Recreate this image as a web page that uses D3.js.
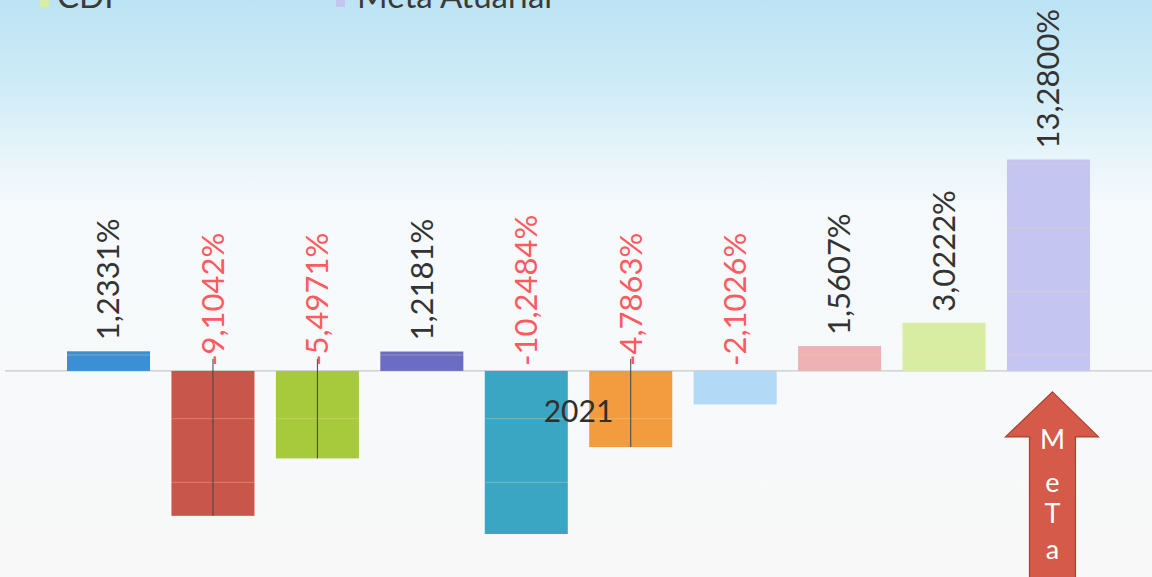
<!DOCTYPE html>
<html>
<head>
<meta charset="utf-8">
<script src="https://cdn.jsdelivr.net/npm/d3@7"></script>
<style>
  html, body { margin: 0; padding: 0; background: #f8f8f8; }
  svg { display: block; font-family: Lato, "Open Sans", sans-serif; }
</style>
</head>
<body>
<div id="chart"></div>
<script>
/*global d3*/
// values in %, one bar per series, single category "2021"
const values = [1.2331, -9.1042, -5.4971, 1.2181, -10.2484, -4.7863, -2.1026, 1.5607, 3.0222, 13.28]
const colors = ["#3b8fd5", "#c9564b", "#a7c93c", "#6b6cc3", "#3ba6c4", "#f29b3f", "#b2d9f6", "#eeb1b4", "#d9eda2", "#c5c5f2"]
const category = "2021"
const legendNames = ["CDI", "Meta Atuarial"]
const legendIdx = [8, 9]
const gridTicks = [-11, -7, -3, 1, 5, 9, 13]
const leaderIdx = [1, 2, 5]
const arrowLetters = ["M", "e", "T", "a"]

const width = 1152, height = 577

const svg = d3.select("#chart").append("svg").attr("width", width).attr("height", height)

// background gradient
const grad = svg.append("defs").append("linearGradient").attr("id", "bg")
  .attr("x1", 0).attr("y1", 0).attr("x2", 0).attr("y2", 1)
grad.selectAll("stop")
  .data([[0, "#bce3f4"], [0.14, "#cdebf7"], [0.25, "#e4f3fa"], [0.36, "#f6fafc"], [1, "#f8f8f8"]])
  .join("stop")
  .attr("offset", d => d[0])
  .attr("stop-color", d => d[1])
svg.append("rect").attr("width", width).attr("height", height).attr("fill", "url(#bg)")

const x = d3.scaleBand().domain(d3.range(values.length)).range([67, 1090]).paddingInner(0.205).paddingOuter(0)
const y = d3.scaleLinear().domain([-11, 13]).range([546, 164])
// pt-BR style: comma decimal, plain hyphen minus
const fmt = v => d3.format(".4f")(v).replace("−", "-").replace(".", ",") + "%"

// baseline
svg.append("line")
  .attr("x1", 5).attr("x2", width)
  .attr("y1", y(0)).attr("y2", y(0))
  .attr("stroke", "#c9c9c9").attr("stroke-width", 1.2)

// bars
const bars = svg.selectAll(".bar")
  .data(values)
  .join("g")
  .attr("class", "bar")
bars.append("rect")
  .attr("x", (d, i) => x(i))
  .attr("width", x.bandwidth())
  .attr("y", d => y(Math.max(0, d)))
  .attr("height", d => Math.abs(y(d) - y(0)))
  .attr("fill", (d, i) => colors[i])

// faint gridlines seen through the bars
bars.each(function (d, i) {
  const lo = Math.min(0, d), hi = Math.max(0, d)
  d3.select(this).selectAll("line.grid")
    .data(gridTicks.filter(t => t > lo && t < hi))
    .join("line")
    .attr("class", "grid")
    .attr("x1", x(i)).attr("x2", x(i) + x.bandwidth())
    .attr("y1", t => y(t)).attr("y2", t => y(t))
    .attr("stroke", "rgba(255,215,150,0.35)")
    .attr("stroke-width", 1)
})

// leader lines
svg.selectAll(".leader")
  .data(leaderIdx)
  .join("line")
  .attr("class", "leader")
  .attr("x1", i => x(i) + x.bandwidth() / 2)
  .attr("x2", i => x(i) + x.bandwidth() / 2)
  .attr("y1", y(0) - 12)
  .attr("y2", i => y(values[i]))
  .attr("stroke", "#444").attr("stroke-width", 1)

// value labels
svg.selectAll(".val")
  .data(values)
  .join("text")
  .attr("class", "val")
  .attr("transform", (d, i) => {
    const cx = x(i) + x.bandwidth() / 2 + 3
    const cy = d >= 0 ? y(d) - 11 : y(0) - 5
    return `translate(${cx},${cy}) rotate(-90)`
  })
  .attr("dominant-baseline", "middle")
  .attr("font-size", 31)
  .attr("fill", d => d < 0 ? "#ff5a60" : "#333")
  .text(fmt)

// category label
svg.append("text")
  .attr("x", (x.range()[0] + x.range()[1]) / 2)
  .attr("y", y(0) + 51)
  .attr("text-anchor", "middle")
  .attr("font-size", 30)
  .attr("fill", "#2f2f2f")
  .text(category)

// legend (cut off at the top of the picture, as in the source)
const legend = svg.selectAll(".leg")
  .data(legendNames)
  .join("g")
  .attr("class", "leg")
  .attr("transform", (d, i) => `translate(${[40, 336][i]},0)`)
legend.append("rect")
  .attr("x", 0).attr("y", -4).attr("width", 9).attr("height", 11)
  .attr("fill", (d, i) => colors[legendIdx[i]])
legend.append("text")
  .attr("x", (d, i) => [17, 21][i]).attr("y", 8)
  .attr("font-size", 33)
  .attr("fill", "#3a3a3a")
  .text(d => d)

// "Meta" arrow under the last bar
const ax = x(values.length - 1) + x.bandwidth() / 2 + 4
const tipY = y(0) + 21
const arrow = svg.append("g").attr("transform", `translate(${ax},${tipY})`)
arrow.append("path")
  .attr("d", "M0,0 L46,45 L23,45 L23,200 L-23,200 L-23,45 L-47,45 Z")
  .attr("fill", "#d65a49")
  .attr("stroke", "#a9402f")
  .attr("stroke-width", 1.2)
arrow.selectAll("text")
  .data(arrowLetters)
  .join("text")
  .attr("x", 0)
  .attr("y", (d, i) => [57, 100, 131, 167][i])
  .attr("text-anchor", "middle")
  .attr("font-size", 27)
  .attr("fill", "#fff")
  .text(d => d)
</script>
</body>
</html>
